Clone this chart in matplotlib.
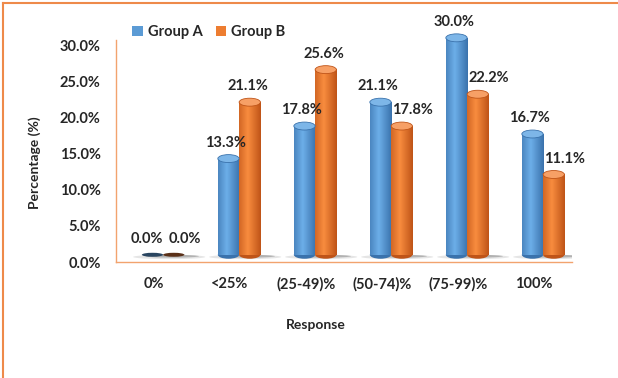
import matplotlib
matplotlib.use("Agg")
import matplotlib.pyplot as plt
import numpy as np
from matplotlib.colors import LinearSegmentedColormap
from matplotlib.lines import Line2D
from matplotlib.patches import Ellipse, Patch

plt.rcParams["font.family"] = ["Lato", "DejaVu Sans"]
plt.rcParams["font.weight"] = "bold"

categories = ["0%", "<25%", "(25-49)%", "(50-74)%", "(75-99)%", "100%"]
group_a = [0.0, 13.3, 17.8, 21.1, 30.0, 16.7]
group_b = [0.0, 21.1, 25.6, 17.8, 22.2, 11.1]
series_names = ["Group A", "Group B"]
y_ticks = [0, 5, 10, 15, 20, 25, 30]

# styling for the fake 3D cylinders
BAR_W = 0.28
DX, DY = 0.12, 1.0      # perspective shift of the whole bar block
CAP_H = 1.1             # height of the elliptic caps in data units
STYLES = [
    # body edge, body centre, cap, zero-disc, legend
    ("#3A72AC", "#6CAEE8", "#7DB6E8", "#2A4560", "#5B9BD5"),
    ("#BF5418", "#F88C3E", "#F7A066", "#5A3018", "#ED7D31"),
]
AXIS_ORANGE = "#F2A36E"
TEXT = "#262626"
FS = 10.5

fig = plt.figure(figsize=(6.18, 3.78), dpi=100)
ax = fig.add_axes([116 / 618, 1 - 262 / 378, 456 / 618, 222 / 378])

x = np.arange(len(categories))
grad = np.linspace(0, 1, 64)
grad = np.abs(grad - 0.4) / 0.6
grad = grad.reshape(1, -1)

# base shadows, darker close to the bars
for xi in x:
    ax.add_patch(Ellipse((xi + DX + 0.08, DY - 0.3), 0.95, 0.6,
                         facecolor="#8a8a8a", alpha=0.22, lw=0, zorder=1))
    ax.add_patch(Ellipse((xi + DX + 0.12, DY - 0.2), 0.7, 0.4,
                         facecolor="#555555", alpha=0.35, lw=0, zorder=1))

for k, vals in enumerate([group_a, group_b]):
    edge_c, mid_c, cap_c, zero_c, _ = STYLES[k]
    cmap = LinearSegmentedColormap.from_list(f"cyl{k}", [mid_c, edge_c])
    offset = (k - 0.5) * BAR_W + DX
    bars = ax.bar(x + offset, vals, BAR_W, bottom=DY, color=mid_c, zorder=2,
                  clip_on=False)
    for bar, v, va, vb in zip(bars, vals, group_a, group_b):
        cx = bar.get_x() + BAR_W / 2
        if v > 0:
            im = ax.imshow(grad, cmap=cmap, aspect="auto", zorder=2.1,
                           extent=(bar.get_x(), bar.get_x() + BAR_W, DY, DY + v))
            im.set_clip_on(False)
            ax.add_patch(Ellipse((cx, DY), BAR_W, CAP_H, facecolor=edge_c,
                                 lw=0, zorder=1.9, clip_on=False))
            ax.add_patch(Ellipse((cx, DY + v), BAR_W, CAP_H, facecolor=cap_c,
                                 edgecolor=edge_c, lw=0.6, zorder=3,
                                 clip_on=False))
        else:
            ax.add_patch(Ellipse((cx, DY), BAR_W, CAP_H * 0.5,
                                 facecolor=zero_c, lw=0, zorder=3))
        # label offsets mimic Excel nudging the shorter orange label aside
        if k == 0:
            shift = -4 if va == vb else -2
        else:
            shift = 8 if vb <= va else -1
        ax.annotate(f"{v:.1f}%", xy=(cx, DY + v), xytext=(shift, 11.5),
                    textcoords="offset points", ha="center", va="center",
                    fontsize=FS, fontweight="bold", color=TEXT, zorder=4,
                    annotation_clip=False)

ax.set_xlim(-0.5, 5.5)
ax.set_ylim(0, 30.7)
ax.set_xticks(x)
ax.set_xticklabels(categories)
ax.set_yticks(y_ticks)
ax.set_yticklabels([f"{t:.1f}%" for t in y_ticks])
ax.tick_params(axis="y", length=0, pad=11, labelsize=FS, labelcolor=TEXT)
ax.tick_params(axis="x", length=0, pad=11, labelsize=FS, labelcolor=TEXT)
for side in ["top", "right"]:
    ax.spines[side].set_visible(False)
for side in ["left", "bottom"]:
    ax.spines[side].set_color(AXIS_ORANGE)
    ax.spines[side].set_linewidth(1.0)

handles = [Patch(facecolor=STYLES[k][4], edgecolor="none", label=series_names[k])
           for k in range(2)]
fig.legend(handles=handles, loc="center left", bbox_to_anchor=(0.193, 0.915),
           ncol=2, frameon=False, handlelength=0.7, handleheight=0.7,
           handletextpad=0.35, columnspacing=0.9, prop={"size": FS, "weight": "bold"},
           labelcolor=TEXT)

fig.text(35 / 618, 1 - 163 / 378, "Percentage (%)", rotation=90, ha="center",
         va="center", fontsize=10, fontweight="bold", color=TEXT)
fig.text(316 / 618, 1 - 325 / 378, "Response", ha="center", va="center",
         fontsize=10, fontweight="bold", color=TEXT)

# orange frame on the top and left edge of the picture
fig.add_artist(Line2D([3 / 618, 3 / 618], [0, 1 - 3 / 378], color="#EE8A4A",
                      lw=1.5, transform=fig.transFigure))
fig.add_artist(Line2D([3 / 618, 1], [1 - 3 / 378, 1 - 3 / 378], color="#EE8A4A",
                      lw=1.5, transform=fig.transFigure))

fig.savefig("out.png", dpi=100)
